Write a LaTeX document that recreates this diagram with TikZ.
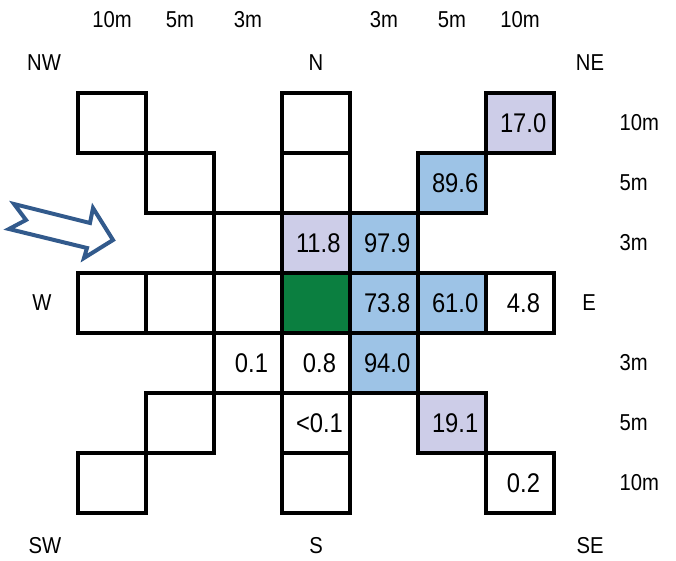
\documentclass[tikz,border=0pt]{standalone}
\usepackage{fontspec}
\setmainfont{Liberation Sans}[FakeStretch=0.88]
\usepackage{tikz}

\definecolor{cellblue}{RGB}{157,195,230}
\definecolor{celllav}{RGB}{205,205,232}
\definecolor{cellgreen}{RGB}{11,127,64}
\definecolor{windblue}{RGB}{50,90,140}

\begin{document}
\begin{tikzpicture}[%
  x=1pt, y=-1pt,
  cell/.style={draw, line width=3.2pt, minimum width=68pt, minimum height=60pt,
    text width=40pt, inner xsep=14pt, align=right,
    font=\fontsize{27}{30}\selectfont},
  hi/.style={cell, fill=cellblue},
  mid/.style={cell, fill=celllav},
  dist/.style={font=\fontsize{23}{26}\selectfont},
  compass/.style={font=\fontsize{23}{26}\selectfont}]

  \useasboundingbox (0,0) rectangle (676,561);

  % north row of cells
  \node[cell] (nw10) at (112,123) {};
  \node[cell] (n10) at (316,123) {};
  \node[mid] (ne10) at (520,123) {17.0};
  \node[cell] (nw5) at (180,183) {};
  \node[cell] (n5) at (316,183) {};
  \node[hi] (ne5) at (452,183) {89.6};
  \node[cell] (nw3) at (248,243) {};
  \node[mid] (n3) at (316,243) {11.8};
  \node[hi] (ne3) at (384,243) {97.9};

  % centre row
  \node[cell] (w10) at (112,303) {};
  \node[cell] (w5) at (180,303) {};
  \node[cell] (w3) at (248,303) {};
  \node[cell, fill=cellgreen] (o) at (316,303) {};
  \node[hi] (e3) at (384,303) {73.8};
  \node[hi] (e5) at (452,303) {61.0};
  \node[cell] (e10) at (520,303) {4.8};

  % south rows
  \node[cell] (sw3) at (248,363) {0.1};
  \node[cell] (s3) at (316,363) {0.8};
  \node[hi] (se3) at (384,363) {94.0};
  \node[cell] (sw5) at (180,423) {};
  \node[cell] (s5) at (316,423) {<0.1};
  \node[mid] (se5) at (452,423) {19.1};
  \node[cell] (sw10) at (112,483) {};
  \node[cell] (s10) at (316,483) {};
  \node[cell] (se10) at (520,483) {0.2};

  % distances
  \node[dist] (tw10) at (112,20) {10m};
  \node[dist] (tw5) at (180,20) {5m};
  \node[dist] (tw3) at (248,20) {3m};
  \node[dist] (te3) at (384,20) {3m};
  \node[dist] (te5) at (452,20) {5m};
  \node[dist] (te10) at (520,20) {10m};
  \node[dist, anchor=west] (rn10) at (616,123) {10m};
  \node[dist, anchor=west] (rn5) at (616,183) {5m};
  \node[dist, anchor=west] (rn3) at (616,243) {3m};
  \node[dist, anchor=west] (rs3) at (616,363) {3m};
  \node[dist, anchor=west] (rs5) at (616,423) {5m};
  \node[dist, anchor=west] (rs10) at (616,483) {10m};

  % directions
  \node[compass] (lnw) at (44,63) {NW};
  \node[compass] (ln) at (316,63) {N};
  \node[compass] (lne) at (590,63) {NE};
  \node[compass] (lw) at (42,303) {W};
  \node[compass] (le) at (589,303) {E};
  \node[compass] (lsw) at (45,546) {SW};
  \node[compass] (ls) at (316,546) {S};
  \node[compass] (lse) at (590,546) {SE};

  % wind
  \draw[windblue, line width=4pt, fill=white, line join=miter]
    (14,204) -- (90,223) -- (93,208) -- (113,240) -- (84,258) -- (87,248)
    -- (9,229) -- (26,220) -- cycle;
\end{tikzpicture}
\end{document}
